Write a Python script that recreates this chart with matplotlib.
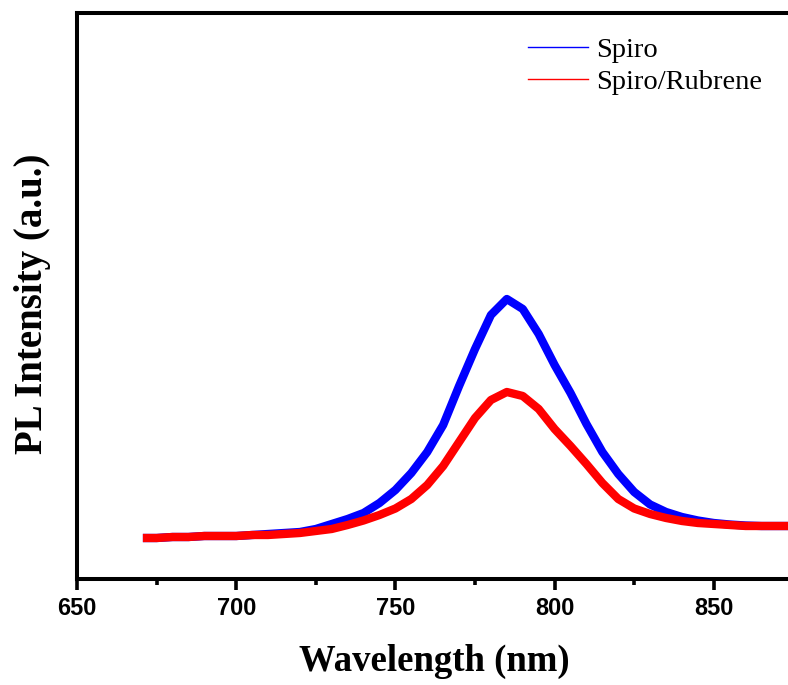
import numpy as np
import matplotlib.pyplot as plt
from matplotlib.ticker import MultipleLocator

# wavelength grid (nm) and PL intensities (a.u.)
wavelength = [672, 675, 680, 685, 690, 695, 700, 705, 710, 715, 720, 725, 730,
              735, 740, 745, 750, 755, 760, 765, 770, 775, 780, 785, 790, 795,
              800, 805, 810, 815, 820, 825, 830, 835, 840, 845, 850, 855, 860,
              865, 870, 873]
spiro = [410, 410, 420, 420, 430, 430, 430, 440, 450, 460, 470, 500, 550,
         600, 660, 760, 890, 1060, 1270, 1540, 1930, 2300, 2640, 2800, 2700, 2450,
         2140, 1860, 1550, 1270, 1050, 870, 745, 670, 620, 585, 560, 545, 535,
         530, 530, 530]
spiro_rubrene = [410, 410, 420, 420, 430, 430, 430, 440, 440, 450, 460, 480, 500,
                 540, 585, 640, 705, 800, 940, 1130, 1370, 1610, 1790, 1870, 1830, 1700,
                 1500, 1330, 1150, 960, 800, 705, 650, 610, 580, 560, 550, 540, 530,
                 530, 530, 530]
xticks = [650, 700, 750, 800, 850]

W, H = 788, 685
fig = plt.figure(figsize=(W / 100, H / 100), dpi=100)
# axes frame: left spine at x=77 px, bottom at y=579 px, top at y=13 px;
# the right side runs past the edge of the picture (cropped like the original)
ax = fig.add_axes([77 / W, (H - 579) / H, (873 - 77) / W, (579 - 13) / H])

ax.plot(wavelength, spiro, color='#0000ff', lw=6, label='Spiro')
ax.plot(wavelength, spiro_rubrene, color='#ff0000', lw=6, label='Spiro/Rubrene')

ax.set_xlim(650, 900)
ax.set_ylim(0, 5660)
ax.set_xticks(xticks)
ax.set_xticklabels([str(t) for t in xticks], fontfamily='Liberation Sans',
                   fontweight='bold', fontsize=17)
ax.xaxis.set_minor_locator(MultipleLocator(25))
ax.set_yticks([])
ax.tick_params(axis='x', which='major', direction='out', length=8, width=2.6, pad=5)
ax.tick_params(axis='x', which='minor', direction='out', length=4.5, width=2.6)
for s in ax.spines.values():
    s.set_linewidth(2.9)

fig.text(434 / W, 1 - 661 / H, 'Wavelength (nm)', ha='center', va='center',
         fontfamily='Liberation Serif', fontweight='bold', fontsize=26.5)
fig.text(33 / W, 1 - 304 / H, 'PL Intensity (a.u.)', ha='center', va='center',
         rotation=90, fontfamily='Liberation Serif', fontweight='bold', fontsize=28)

leg = fig.legend(loc='upper left', bbox_to_anchor=(528 / W, 1 - 37 / H),
                 frameon=False, prop={'family': 'Liberation Serif', 'size': 20.5},
                 handlelength=2.1, handletextpad=0.3, labelspacing=0.2,
                 borderpad=0, borderaxespad=0)
for ln in leg.get_lines():
    ln.set_linewidth(1.0)

fig.savefig('out.png', dpi=100)
